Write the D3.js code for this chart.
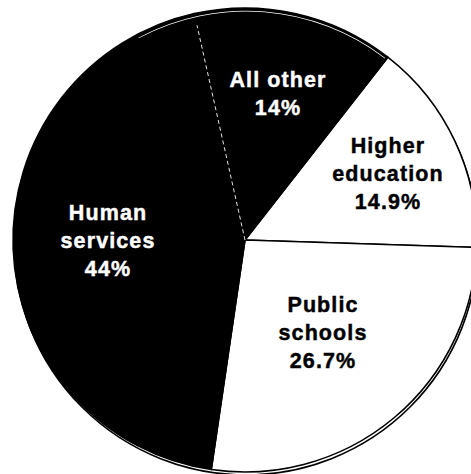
<!DOCTYPE html>
<html>
<head>
<meta charset="utf-8">
<script src="https://cdn.jsdelivr.net/npm/d3@7"></script>
<style>
  html, body { margin: 0; padding: 0; background: #fff; }
  svg { display: block; }
</style>
</head>
<body>
<svg id="chart" width="471" height="474"></svg>
<script>
const categories = ["Higher education", "Public schools", "Human services", "All other"];
const labelLines = [["Higher", "education", "14.9%"], ["Public", "schools", "26.7%"], ["Human", "services", "44%"], ["All other", "14%"]];
const values = [14.9, 26.7, 44, 14];
const fills = ["#ffffff", "#ffffff", "#000000", "#000000"];
const textColors = ["#000000", "#000000", "#ffffff", "#ffffff"];

const svg = d3.select("#chart");
const cx = 245, cy = 240, r = 232;
const start = 38 * Math.PI / 180;

const pie = d3.pie().sort(null).value(d => d).startAngle(start).endAngle(start + 2 * Math.PI);
const arcs = pie(values);
const arc = d3.arc().innerRadius(0).outerRadius(r);

// shadow circle (offset) behind the pie
svg.append("circle")
  .attr("cx", cx + 1).attr("cy", cy + 3).attr("r", r)
  .attr("fill", "none").attr("stroke", "#000").attr("stroke-width", 1.6);

const g = svg.append("g").attr("transform", `translate(${cx},${cy})`);

g.selectAll("path.slice")
  .data(arcs)
  .join("path")
  .attr("class", "slice")
  .attr("d", arc)
  .attr("fill", (d, i) => fills[i])
  .attr("stroke", "#000")
  .attr("stroke-width", 1.6)
  .attr("stroke-linejoin", "round");

// white thin line inside the black top (shadow circle seen through)
const shadowArc = d3.arc().innerRadius(r - 3.6).outerRadius(r - 2.8)
  .startAngle(-28 * Math.PI / 180).endAngle(start - 0.01);
g.append("path").attr("d", shadowArc()).attr("fill", "#fff").attr("transform", "translate(1,0)");

// dotted white divider between Human services and All other
const a = arcs[3].startAngle;
g.append("line")
  .attr("x1", 0).attr("y1", 0)
  .attr("x2", Math.sin(a) * (r - 12)).attr("y2", -Math.cos(a) * (r - 12))
  .attr("stroke", "#fff").attr("stroke-width", 0.9)
  .attr("stroke-dasharray", "4,3");

// labels: center x and first-line baseline relative to pie centre
const labelPos = [
  [143, -87],
  [78, 72],
  [-137, -20],
  [33, -153]
];
const lineH = 28;
arcs.forEach((d, i) => {
  const lines = labelLines[i];
  const t = g.append("text")
    .attr("text-anchor", "middle")
    .attr("fill", textColors[i])
    .attr("stroke", textColors[i])
    .attr("stroke-width", 0.45)
    .style("font-family", "'Liberation Sans', Arial, Helvetica, sans-serif")
    .style("font-weight", "bold")
    .style("font-size", "21.5px")
    .style("letter-spacing", "1.1px");
  lines.forEach((ln, j) => {
    t.append("tspan")
      .attr("x", labelPos[i][0])
      .attr("y", labelPos[i][1] + j * lineH)
      .text(ln);
  });
});
</script>
</body>
</html>
